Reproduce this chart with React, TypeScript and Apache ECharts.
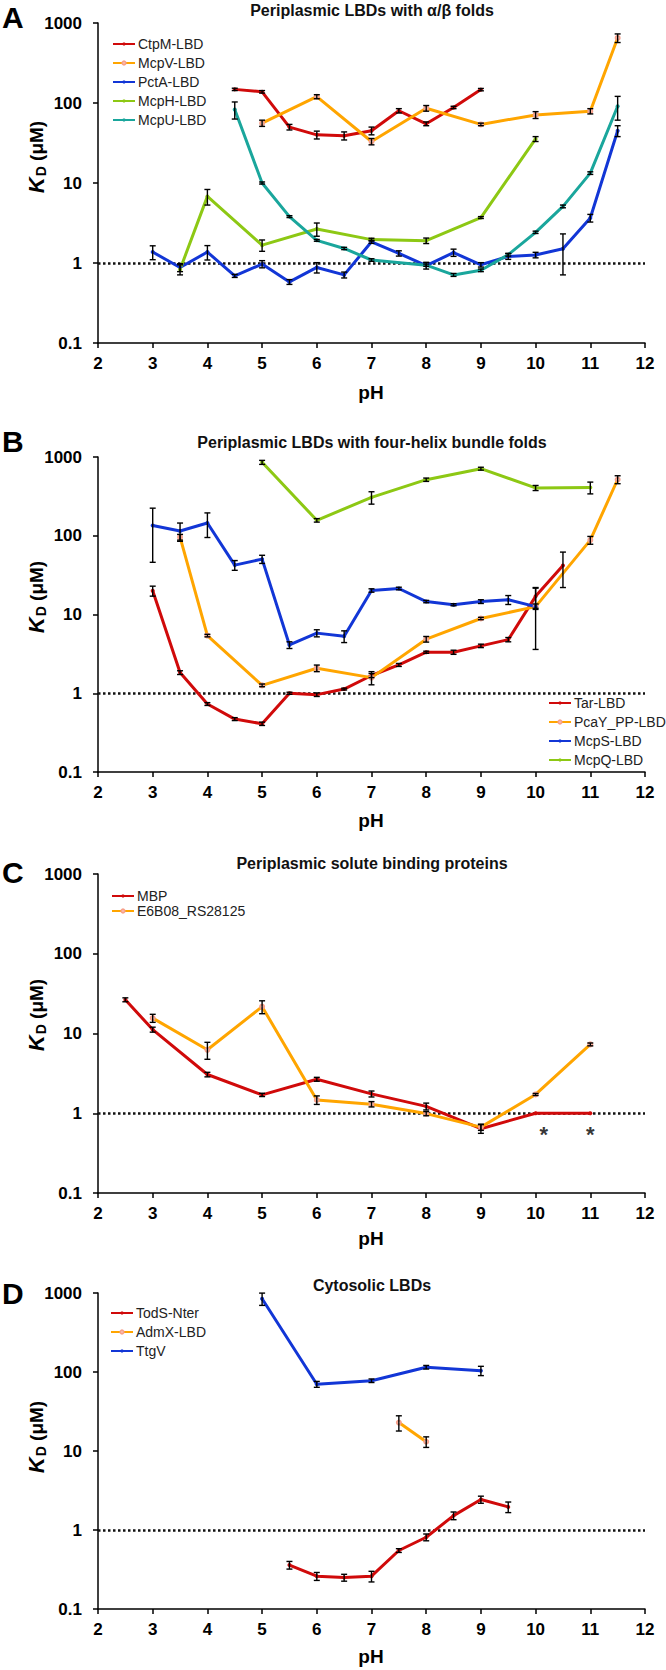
import React, { useEffect, useRef } from "react";
import * as echarts from "echarts";

const FONT = "'Liberation Sans', Arial, Helvetica, sans-serif";

// ---------- Panel A: Periplasmic LBDs with α/β folds ----------
const ctpmX = [4.5, 5, 5.5, 6, 6.5, 7, 7.5, 8, 8.5, 9];
const ctpmY = [148, 138, 50, 40, 39, 45, 80, 55, 88, 147];
const ctpmE = [5, 5, 4, 4.5, 4.5, 5, 5, 3, 3, 5];

const mcpvX = [5, 6, 7, 8, 9, 10, 11, 11.5];
const mcpvY = [56, 120, 33, 86, 54, 71, 79, 650];
const mcpvE = [5, 7, 3, 7, 2, 7, 6, 80];

const pctaX = [3, 3.5, 4, 4.5, 5, 5.5, 6, 6.5, 7, 7.5, 8, 8.5, 9, 9.5, 10, 10.5, 11, 11.5];
const pctaY = [1.37, 0.88, 1.37, 0.69, 0.97, 0.58, 0.88, 0.71, 1.84, 1.32, 0.93, 1.35, 0.95, 1.21, 1.26, 1.51, 3.65, 45];
const pctaE = [0.27, 0.1, 0.28, 0.03, 0.1, 0.04, 0.13, 0.06, 0.08, 0.1, 0.09, 0.14, 0.06, 0.1, 0.1, 0.8, 0.4, 7];

const mcphX = [3.5, 4, 5, 6, 7, 8, 9, 10];
const mcphY = [0.83, 6.8, 1.67, 2.66, 1.96, 1.9, 3.7, 35.5];
const mcphE = [0.12, 1.5, 0.27, 0.5, 0.08, 0.15, 0.1, 2.5];

const mcpuX = [4.5, 5, 5.5, 6, 6.5, 7, 8, 8.5, 9, 9.5, 10, 10.5, 11, 11.5];
const mcpuY = [83, 10, 3.8, 1.92, 1.52, 1.09, 0.94, 0.71, 0.81, 1.27, 2.42, 5.1, 13.3, 91];
const mcpuE = [20, 0.3, 0.1, 0.05, 0.05, 0.04, 0.03, 0.03, 0.03, 0.05, 0.08, 0.2, 0.5, 30];

// ---------- Panel B: Periplasmic LBDs with four-helix bundle folds ----------
const tarX = [3, 3.5, 4, 4.5, 5, 5.5, 6, 6.5, 7, 7.5, 8, 8.5, 9, 9.5, 10, 10.5];
const tarY = [20, 1.83, 0.73, 0.47, 0.41, 1.0, 0.96, 1.13, 1.68, 2.29, 3.32, 3.32, 4.0, 4.8, 17, 42];
const tarE = [2.9, 0.1, 0.03, 0.02, 0.02, 0.03, 0.05, 0.03, 0.1, 0.1, 0.1, 0.2, 0.2, 0.3, 5, 20];

const pcayX = [3.5, 4, 5, 6, 7, 8, 9, 10, 11, 11.5];
const pcayY = [96, 5.4, 1.26, 2.08, 1.58, 4.86, 8.9, 12.6, 88, 518];
const pcayE = [8, 0.2, 0.05, 0.2, 0.3, 0.4, 0.3, 1, 10, 60];

const mcpsX = [3, 3.5, 4, 4.5, 5, 5.5, 6, 6.5, 7, 7.5, 8, 8.5, 9, 9.5, 10];
const mcpsY = [135, 115, 145, 42.4, 50.5, 4.1, 5.8, 5.3, 20.2, 21.4, 14.6, 13.3, 14.6, 15.4, 12.6];
const mcpsE = [89, 30, 50, 6, 6, 0.4, 0.6, 0.9, 1, 0.8, 0.5, 0.4, 0.8, 2, 9];

const mcpqX = [5, 6, 7, 8, 9, 10, 11];
const mcpqY = [856, 157, 307, 515, 711, 405, 410];
const mcpqE = [50, 8, 55, 25, 30, 30, 70];

// ---------- Panel C: Periplasmic solute binding proteins ----------
const mbpX = [2.5, 3, 4, 5, 6, 7, 8, 9, 10, 11];
const mbpY = [26.5, 11.2, 3.06, 1.7, 2.67, 1.75, 1.22, 0.64, 1.0, 1.0];
const mbpE = [1.5, 0.8, 0.2, 0.08, 0.15, 0.15, 0.12, 0.08, 0, 0];

const e6bX = [3, 4, 5, 6, 7, 8, 9, 10, 11];
const e6bY = [15.6, 6.25, 21.7, 1.47, 1.3, 0.99, 0.67, 1.72, 7.3];
const e6bE = [1.8, 1.5, 4, 0.18, 0.1, 0.06, 0.06, 0.05, 0.3];

const starX = [10.15, 11];
const starY = [0.62, 0.62];

// ---------- Panel D: Cytosolic LBDs ----------
const todsX = [5.5, 6, 6.5, 7, 7.5, 8, 8.5, 9, 9.5];
const todsY = [0.36, 0.26, 0.25, 0.26, 0.55, 0.81, 1.52, 2.43, 1.96];
const todsE = [0.04, 0.03, 0.025, 0.04, 0.03, 0.08, 0.17, 0.25, 0.3];

const admxX = [7.5, 8];
const admxY = [22.9, 13.1];
const admxE = [5, 2];

const ttgvX = [5, 6, 7, 8, 9];
const ttgvY = [847, 70, 77.6, 115, 104];
const ttgvE = [150, 6, 4, 6, 14];

// axis ticks
const yTicks = [0.1, 1, 10, 100, 1000];
const xMin = 2;
const xMax = 12;

const RED = "#D00A0A";
const ORANGE = "#FFA500";
const BLUE = "#1236D6";
const GREEN = "#8DC814";
const TEAL = "#1AA69C";

type S = { name: string; x: number[]; y: number[]; e: number[]; color: string; hollow?: boolean };

const panels: {
  letter: string;
  title: string;
  top: number;
  height: number;
  letterY: number;
  titleY: number;
  ynameY: number;
  phY: number;
  legend: { left: number; top: number; gap: number };
  series: S[];
}[] = [
  {
    letter: "A",
    title: "Periplasmic LBDs with α/β folds",
    top: 23,
    height: 320,
    letterY: 17,
    titleY: 10,
    ynameY: 157,
    phY: 392,
    legend: { left: 112, top: 37, gap: 5 },
    series: [
      { name: "CtpM-LBD", x: ctpmX, y: ctpmY, e: ctpmE, color: RED },
      { name: "McpV-LBD", x: mcpvX, y: mcpvY, e: mcpvE, color: ORANGE, hollow: true },
      { name: "PctA-LBD", x: pctaX, y: pctaY, e: pctaE, color: BLUE },
      { name: "McpH-LBD", x: mcphX, y: mcphY, e: mcphE, color: GREEN },
      { name: "McpU-LBD", x: mcpuX, y: mcpuY, e: mcpuE, color: TEAL },
    ],
  },
  {
    letter: "B",
    title: "Periplasmic LBDs with four-helix bundle folds",
    top: 457,
    height: 315,
    letterY: 441,
    titleY: 442,
    ynameY: 597,
    phY: 820,
    legend: { left: 548, top: 696, gap: 5 },
    series: [
      { name: "Tar-LBD", x: tarX, y: tarY, e: tarE, color: RED },
      { name: "PcaY_PP-LBD", x: pcayX, y: pcayY, e: pcayE, color: ORANGE, hollow: true },
      { name: "McpS-LBD", x: mcpsX, y: mcpsY, e: mcpsE, color: BLUE },
      { name: "McpQ-LBD", x: mcpqX, y: mcpqY, e: mcpqE, color: GREEN },
    ],
  },
  {
    letter: "C",
    title: "Periplasmic solute binding proteins",
    top: 874,
    height: 319,
    letterY: 872,
    titleY: 863,
    ynameY: 1015,
    phY: 1238,
    legend: { left: 111, top: 889, gap: 1 },
    series: [
      { name: "MBP", x: mbpX, y: mbpY, e: mbpE, color: RED },
      { name: "E6B08_RS28125", x: e6bX, y: e6bY, e: e6bE, color: ORANGE, hollow: true },
    ],
  },
  {
    letter: "D",
    title: "Cytosolic LBDs",
    top: 1293,
    height: 316,
    letterY: 1293,
    titleY: 1285,
    ynameY: 1437,
    phY: 1656,
    legend: { left: 110, top: 1306, gap: 5 },
    series: [
      { name: "TodS-Nter", x: todsX, y: todsY, e: todsE, color: RED },
      { name: "AdmX-LBD", x: admxX, y: admxY, e: admxE, color: ORANGE, hollow: true },
      { name: "TtgV", x: ttgvX, y: ttgvY, e: ttgvE, color: BLUE },
    ],
  },
];

const GRID_LEFT = 98;
const GRID_RIGHT = 21;

function errRender(params: any, api: any) {
  const x = api.value(0);
  const lo = api.coord([x, api.value(2)]);
  const hi = api.coord([x, api.value(3)]);
  const c = 3;
  const st = { stroke: "#000", lineWidth: 1.4 };
  return {
    type: "group",
    children: [
      { type: "line", shape: { x1: lo[0], y1: lo[1], x2: hi[0], y2: hi[1] }, style: st },
      { type: "line", shape: { x1: lo[0] - c, y1: lo[1], x2: lo[0] + c, y2: lo[1] }, style: st },
      { type: "line", shape: { x1: hi[0] - c, y1: hi[1], x2: hi[0] + c, y2: hi[1] }, style: st },
    ],
  };
}

function buildOption() {
  const grid: any[] = [];
  const xAxis: any[] = [];
  const yAxis: any[] = [];
  const legend: any[] = [];
  const series: any[] = [];
  const graphic: any[] = [];

  panels.forEach((p, gi) => {
    grid.push({ left: GRID_LEFT, right: GRID_RIGHT, top: p.top, height: p.height, containLabel: false });
    xAxis.push({
      type: "value",
      gridIndex: gi,
      min: xMin,
      max: xMax,
      interval: 1,
      axisLine: { show: true, onZero: false, lineStyle: { color: "#000", width: 1.5 } },
      axisTick: { show: true, length: 5, lineStyle: { color: "#000", width: 1.5 } },
      axisLabel: { color: "#000", fontSize: 17, fontWeight: "bold", fontFamily: FONT, margin: 12 },
      splitLine: { show: false },
    });
    yAxis.push({
      type: "log",
      logBase: 10,
      gridIndex: gi,
      min: yTicks[0],
      max: yTicks[yTicks.length - 1],
      axisLine: { show: true, onZero: false, lineStyle: { color: "#000", width: 1.5 } },
      axisTick: { show: true, length: 5, lineStyle: { color: "#000", width: 1.5 } },
      axisLabel: {
        color: "#000",
        fontSize: 17,
        fontWeight: "bold",
        fontFamily: FONT,
        margin: 16,
        formatter: (v: number) => (v >= 1 ? String(Math.round(v)) : String(+v.toFixed(1))),
      },
      splitLine: { show: false },
      minorTick: { show: false },
    });
    legend.push({
      orient: "vertical",
      left: p.legend.left,
      top: p.legend.top,
      itemGap: p.legend.gap,
      itemWidth: 22,
      itemHeight: 4,
      padding: 0,
      data: p.series.map((s) => s.name),
      textStyle: { fontSize: 14, fontFamily: FONT, color: "#222", padding: [0, 0, 0, -2] },
    });

    p.series.forEach((s, si) => {
      const line: any = {
        type: "line",
        name: s.name,
        xAxisIndex: gi,
        yAxisIndex: gi,
        data: s.x.map((x, i) => [x, s.y[i]]),
        symbol: s.hollow ? "emptyCircle" : "circle",
        symbolSize: 4,
        showSymbol: true,
        lineStyle: { width: 3, color: s.color },
        itemStyle: s.hollow ? { color: "#F7A08A", borderColor: s.color, borderWidth: 1 } : { color: s.color },
        z: 3,
        silent: true,
      };
      if (si === 0) {
        line.markLine = {
          silent: true,
          symbol: "none",
          label: { show: false },
          lineStyle: { type: [2.5, 2.5], color: "#111", width: 2.5 },
          data: [{ yAxis: 1 }],
          z: 2,
        };
      }
      series.push(line);
      series.push({
        type: "custom",
        name: "err-" + s.name,
        xAxisIndex: gi,
        yAxisIndex: gi,
        silent: true,
        z: 5,
        renderItem: errRender,
        encode: { x: 0, y: [2, 3] },
        data: s.x
          .map((x, i) => [x, s.y[i], Math.max(s.y[i] - s.e[i], 0.101), s.y[i] + s.e[i], s.e[i]])
          .filter((d) => d[4] > 0),
      });
    });

    if (gi === 2) {
      series.push({
        type: "scatter",
        name: "asterisks",
        xAxisIndex: gi,
        yAxisIndex: gi,
        symbolSize: 1,
        itemStyle: { color: "rgba(0,0,0,0)" },
        silent: true,
        data: starX.map((x, i) => [x, starY[i]]),
        label: {
          show: true,
          position: "inside",
          formatter: "*",
          fontSize: 22,
          fontWeight: "bold",
          fontFamily: FONT,
          color: "#000",
          offset: [0, 5],
        },
      });
    }

    graphic.push({
      type: "text",
      left: 2,
      top: p.letterY - 15,
      style: { text: p.letter, fontSize: 30, fontWeight: "bold", fontFamily: FONT, fill: "#000" },
    });
    graphic.push({
      type: "text",
      x: 372,
      y: p.titleY,
      style: {
        text: p.title,
        fontSize: 16,
        fontWeight: "bold",
        fontFamily: FONT,
        fill: "#111",
        align: "center",
        verticalAlign: "middle",
      },
    });
    graphic.push({
      type: "text",
      x: 36,
      y: p.ynameY,
      rotation: Math.PI / 2,
      style: {
        text: "{k|K}{d|D}{u| (μM)}",
        align: "center",
        verticalAlign: "middle",
        fill: "#000",
        rich: {
          k: { fontSize: 22, fontWeight: "bold", fontStyle: "italic", fontFamily: FONT, fill: "#000" },
          d: { fontSize: 14, fontWeight: "bold", fontFamily: FONT, fill: "#000", padding: [10, 0, 0, 1] },
          u: { fontSize: 19, fontWeight: "bold", fontFamily: FONT, fill: "#000" },
        },
      },
    });
    graphic.push({
      type: "text",
      x: 371,
      y: p.phY,
      style: {
        text: "pH",
        fontSize: 19,
        fontWeight: "bold",
        fontFamily: FONT,
        fill: "#000",
        align: "center",
        verticalAlign: "middle",
      },
    });
  });

  return {
    animation: false,
    backgroundColor: "#fff",
    grid,
    xAxis,
    yAxis,
    legend,
    series,
    graphic,
  };
}

export default function App() {
  const ref = useRef<HTMLDivElement>(null);
  useEffect(() => {
    document.body.style.margin = "0";
    if (!ref.current) return;
    const chart = echarts.init(ref.current, undefined, { renderer: "svg" });
    chart.setOption(buildOption() as any);
    return () => chart.dispose();
  }, []);
  return (
    <div
      ref={ref}
      style={{ position: "absolute", left: 0, top: 0, width: 666, height: 1670, background: "#fff" }}
    />
  );
}
